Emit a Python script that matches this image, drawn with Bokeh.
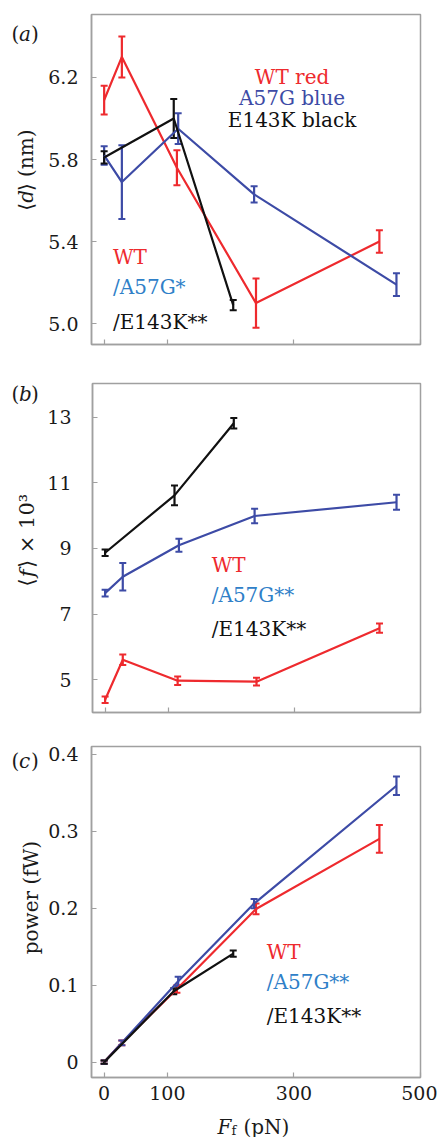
import math
from bokeh.plotting import figure
from bokeh.models import ColumnDataSource, Whisker, TeeHead, FixedTicker, Range1d
from bokeh.layouts import column, row
from bokeh.embed import file_html
from bokeh.resources import INLINE
from bokeh.core.properties import value

# ---------------- data ----------------
x_ticks = [0, 100, 300, 500]
x_tick_labels = ["0", "100", "300", "500"]

wt_x = [0, 28, 115, 240, 435]
a57g_x = [0, 28, 117, 237, 462]
e143k_x = [0, 110, 204]

# (a) mean step <d> (nm)
d_wt = [6.09, 6.30, 5.76, 5.10, 5.40]
d_wt_err = [0.07, 0.10, 0.085, 0.12, 0.055]
d_a57g = [5.82, 5.69, 5.95, 5.63, 5.19]
d_a57g_err = [0.045, 0.18, 0.075, 0.04, 0.055]
d_e143k = [5.81, 6.00, 5.09]
d_e143k_err = [0.03, 0.095, 0.025]
d_ticks = [5.0, 5.4, 5.8, 6.2]
d_tick_labels = ["5.0", "5.4", "5.8", "6.2"]

# (b) <f> x 10^3
f_wt = [4.39, 5.61, 4.97, 4.94, 6.57]
f_wt_err = [0.10, 0.16, 0.13, 0.12, 0.14]
f_a57g = [7.64, 8.14, 9.10, 9.99, 10.41]
f_a57g_err = [0.10, 0.42, 0.20, 0.22, 0.23]
f_e143k = [8.87, 10.62, 12.82]
f_e143k_err = [0.10, 0.30, 0.16]
f_ticks = [5, 7, 9, 11, 13]
f_tick_labels = ["5", "7", "9", "11", "13"]

# (c) power (fW)
p_wt = [0.0, 0.025, 0.095, 0.199, 0.290]
p_wt_err = [0.002, 0.003, 0.005, 0.007, 0.018]
p_a57g = [0.0, 0.025, 0.105, 0.206, 0.359]
p_a57g_err = [0.002, 0.003, 0.006, 0.006, 0.012]
p_e143k = [0.0, 0.092, 0.141]
p_e143k_err = [0.002, 0.004, 0.004]
p_ticks = [0.0, 0.1, 0.2, 0.3, 0.4]
p_tick_labels = ["0", "0.1", "0.2", "0.3", "0.4"]

RED = "#ee2a2e"
BLUE = "#3d4ba6"
LBLUE = "#2f80c8"
BLACK = "#111111"
INK = "#1a1a1a"
GREY = "#a0a0a0"
FONT = "DejaVu Serif"
SIDE_W = 44


def txt(p, x, y, s, size, style="normal", align="left", baseline="middle", angle=0.0,
        color=INK):
    p.text(x=[x], y=[y], text=[s], text_font=value(FONT), text_font_size=size,
           text_font_style=style, text_color=color, text_align=align,
           text_baseline=baseline, angle=angle)


def blank(width, height):
    s = figure(width=width, height=height, x_range=Range1d(0, width),
               y_range=Range1d(0, height), output_backend="svg", toolbar_location=None,
               min_border=0, outline_line_color=None)
    s.axis.visible = False
    s.grid.visible = False
    return s


def make_side(height, letter, letter_y, pieces, lx, ly0, size):
    s = blank(SIDE_W, height)
    # panel letter: upright brackets, italic letter
    txt(s, 11, height - letter_y, "(", "20px")
    txt(s, 18.5, height - letter_y, letter, "20px", style="italic")
    txt(s, 30.5, height - letter_y, ")", "20px")
    # rotated axis label, drawn piecewise (bottom to top)
    y = height - ly0
    for piece, style, adv in pieces:
        txt(s, lx, y, piece, size, style=style, angle=math.pi / 2)
        y += adv
    return s


def make_panel(height, yr, yticks, ylabels, top, bottom, tick_standoff, series, show_x):
    p = figure(width=437 - SIDE_W, height=height, x_range=Range1d(-20, 500),
               y_range=Range1d(*yr), output_backend="svg", toolbar_location=None,
               min_border_left=91 - SIDE_W, min_border_right=17,
               min_border_top=top, min_border_bottom=bottom)
    p.xgrid.visible = False
    p.ygrid.visible = False
    p.outline_line_color = GREY
    p.outline_line_width = 1.5
    for ax in (p.xaxis[0], p.yaxis[0]):
        ax.axis_line_color = GREY
        ax.axis_line_width = 1.5
        ax.major_tick_line_color = GREY
        ax.major_tick_line_width = 1.2
        ax.major_tick_in = 5
        ax.major_tick_out = 0
        ax.minor_tick_line_color = None
        ax.major_label_text_font = FONT
        ax.major_label_text_font_size = "19px"
        ax.major_label_text_color = INK
    p.xaxis.ticker = FixedTicker(ticks=x_ticks)
    p.yaxis.ticker = FixedTicker(ticks=yticks)
    p.yaxis.major_label_overrides = dict(zip(yticks, ylabels))
    p.yaxis.major_label_standoff = tick_standoff
    if show_x:
        p.xaxis.major_label_overrides = dict(zip(x_ticks, x_tick_labels))
        p.xaxis.major_label_standoff = 8
    else:
        p.xaxis.major_label_overrides = {t: "" for t in x_ticks}
        p.xaxis.major_label_standoff = 0

    for xs, ys, es, col in series:
        src = ColumnDataSource(dict(x=xs, y=ys,
                                    lo=[a - b for a, b in zip(ys, es)],
                                    hi=[a + b for a, b in zip(ys, es)]))
        p.line("x", "y", source=src, line_color=col, line_width=2.2)
        w = Whisker(source=src, base="x", lower="lo", upper="hi",
                    line_color=col, line_width=2.2,
                    lower_head=TeeHead(size=7, line_color=col, line_width=2),
                    upper_head=TeeHead(size=7, line_color=col, line_width=2))
        p.add_layout(w)
    return p


def legend_text(p, xs, ys, texts, colors, align):
    p.text(x=xs, y=ys, text=texts, text_color=colors, text_font=value(FONT),
           text_font_size="20px", text_align=align, text_baseline="middle")


# ---- panel (a)
pa = make_panel(370, (4.898, 6.507), d_ticks, d_tick_labels, 14, 26, 13,
                [(wt_x, d_wt, d_wt_err, RED), (a57g_x, d_a57g, d_a57g_err, BLUE),
                 (e143k_x, d_e143k, d_e143k_err, BLACK)], False)
legend_text(pa, [297, 297, 297], [6.20, 6.098, 5.995], ["WT red", "A57G blue", "E143K black"],
            [RED, BLUE, BLACK], "center")
legend_text(pa, [14, 14, 14], [5.327, 5.176, 5.01], ["WT", "/A57G*", "/E143K**"],
            [RED, LBLUE, BLACK], "left")
sa = make_side(370, "a", 22, [("⟨", "normal", 9), ("d", "italic", 13), ("⟩ (nm)", "normal", 0)],
               25, 220, "20px")

# ---- panel (b)
pb = make_panel(360, (4.0, 14.03), f_ticks, f_tick_labels, 13, 18, 21,
                [(wt_x, f_wt, f_wt_err, RED), (a57g_x, f_a57g, f_a57g_err, BLUE),
                 (e143k_x, f_e143k, f_e143k_err, BLACK)], False)
legend_text(pb, [169, 169, 169], [8.51, 7.58, 6.56], ["WT", "/A57G**", "/E143K**"],
            [RED, LBLUE, BLACK], "left")
sb = make_side(360, "b", 11, [("⟨", "normal", 10), ("f", "italic", 10), ("⟩ × 10³", "normal", 0)],
               26, 222, "21px")

# ---- panel (c)
pc = make_panel(376, (-0.02, 0.41), p_ticks, p_tick_labels, 16, 29, 13,
                [(wt_x, p_wt, p_wt_err, RED), (a57g_x, p_a57g, p_a57g_err, BLUE),
                 (e143k_x, p_e143k, p_e143k_err, BLACK)], True)
legend_text(pc, [257, 257, 257], [0.1433, 0.1035, 0.0597], ["WT", "/A57G**", "/E143K**"],
            [RED, LBLUE, BLACK], "left")
sc = make_side(376, "c", 17, [("power (fW)", "normal", 0)], 30, 236, "20px")

# ---- x-axis title strip: F_f (pN)
sx = blank(437, 31)
txt(sx, 217, 11, "F", "20px", style="italic", baseline="alphabetic")
txt(sx, 231, 7, "f", "13px", baseline="alphabetic")
txt(sx, 243, 11, "(pN)", "20px", baseline="alphabetic")

layout = column(row(sa, pa, spacing=0), row(sb, pb, spacing=0), row(sc, pc, spacing=0), sx,
                spacing=0)
open("out.html", "w").write(file_html(layout, INLINE))
